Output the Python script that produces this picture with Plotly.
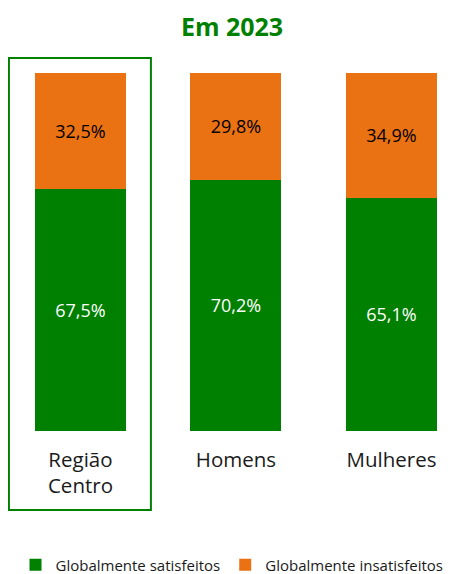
import plotly.graph_objects as go

categorias = ["Região<br>Centro", "Homens", "Mulheres"]
satisfeitos = [67.5, 70.2, 65.1]
insatisfeitos = [32.5, 29.8, 34.9]

verde = "#008000"
laranja = "#EB7212"

def pct(v):
    return f"{v:.1f}%".replace(".", ",")

x = list(range(len(categorias)))

fig = go.Figure()
fig.add_trace(go.Bar(
    x=x, y=satisfeitos, name="Globalmente satisfeitos",
    marker=dict(color=verde, line=dict(width=0)),
    text=[pct(v) for v in satisfeitos], textposition="inside",
    insidetextanchor="middle", textfont=dict(color="white", size=18),
    width=0.585,
))
fig.add_trace(go.Bar(
    x=x, y=insatisfeitos, name="Globalmente insatisfeitos",
    marker=dict(color=laranja, line=dict(width=0)),
    text=[pct(v) for v in insatisfeitos], textposition="inside",
    insidetextanchor="middle", textfont=dict(color="black", size=18),
    width=0.585,
))

# caixa a destacar a Região Centro
fig.add_shape(type="rect", xref="x", yref="paper",
              x0=-0.46, x1=0.453, y0=-0.2207, y1=1.042,
              line=dict(color=verde, width=2))

# a página tem 8px de margem no body, por isso a figura é 8px mais pequena
fig.update_layout(
    width=448, height=566,
    barmode="stack",
    plot_bgcolor="white", paper_bgcolor="white",
    margin=dict(l=0, r=0, t=65, b=143, autoexpand=False),
    font=dict(family="Open Sans, sans-serif", size=16, color="#1a1a1a"),
    title=dict(text="<b>Em 2023</b>", x=0.5, xanchor="center",
               y=1 - 19 / 566, yanchor="middle", yref="container",
               font=dict(size=25, color=verde)),
    showlegend=True,
    legend=dict(orientation="h", x=0.5, xanchor="center", y=-0.374, yanchor="middle",
                traceorder="normal", font=dict(size=15, color="#1a1a1a"),
                itemwidth=30),
    xaxis=dict(range=[-0.466, 2.415], tickvals=x, ticktext=categorias,
               showgrid=False, zeroline=False, showline=False, ticks="",
               automargin=False, ticklabelstandoff=14, tickfont=dict(size=20.5)),
    yaxis=dict(range=[0, 100], visible=False, automargin=False),
)

fig.write_html("out.html")
